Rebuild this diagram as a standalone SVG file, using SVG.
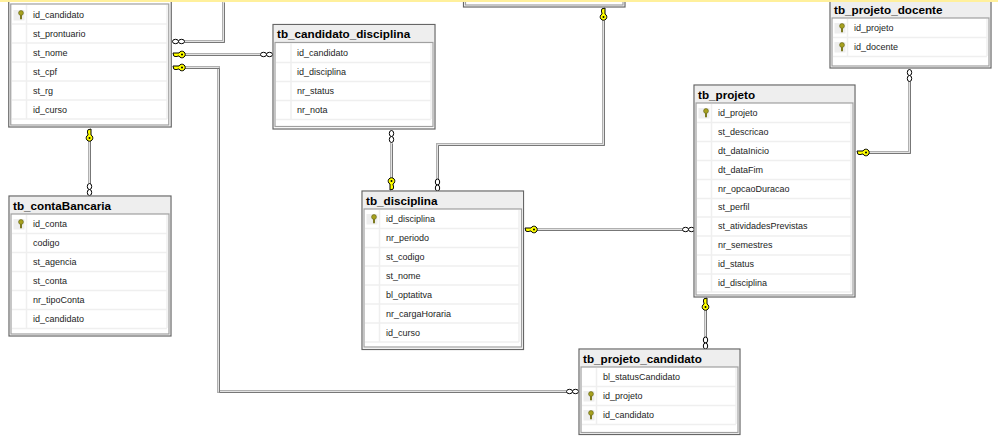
<svg xmlns="http://www.w3.org/2000/svg" width="998" height="448" viewBox="0 0 998 448">
<style>
.o{fill:#fff;stroke:#666;stroke-width:1.2}
.h{fill:#eee}
.i{fill:#fff;stroke:#a0a0a0;stroke-width:1.2}
.s{fill:none;stroke:#efefef;stroke-width:1.5}
.c{fill:#eee}
text{font-family:"Liberation Sans",Arial,sans-serif;fill:#1c1c1c}
.r{font-size:9px;transform:translateY(-.8px)}
.t{font-size:11.700px;font-weight:700;fill:#000;transform:translateY(-.5px)}
.a{fill:none;stroke:#b0b0b0;stroke-width:3}
.b{fill:none;stroke:#e2e2e2;stroke-width:1}
.d{fill:none;stroke:#777;stroke-width:1}
.k{fill:#ff0;stroke:#000;stroke-width:1}
.inf{fill:#fff;stroke:#000;stroke-width:1}
</style>
<defs>
<g id="pk"><rect x="-6.500" y="-5" width="11" height="10.500" class="c"/><circle cx="1" cy="-2" r="2.400" fill="#a8a21e" stroke="#6a6a20" stroke-width=".7"/><path d="M1 0V4.200" stroke="#7c7a20" stroke-width="2"/></g>
<g id="key"><path class="k" d="M0 -1.500H6V-1.500A3.300 3.300 0 1 1 6 1.500H4.500L3.800 2.500L3 1.500L2.200 2.500L1.400 1.500H.8Z"/><circle cx="9" cy="0" r="1" fill="#000"/></g>
<g id="inf"><ellipse class="inf" cx="3" cy="0" rx="3" ry="2.200"/><ellipse class="inf" cx="9" cy="0" rx="3" ry="2.200"/></g>
<path id="c1" d="M184 41.500H223.500V2"/>
<path id="c2" d="M184 54.500H260"/>
<path id="c3" d="M184 67.500H218.500V391.500H566"/>
<path id="c4" d="M89.500 140V183"/>
<path id="c5" d="M391.500 143V179"/>
<path id="c6" d="M437.500 179V144.500H603.500V20"/>
<path id="c7" d="M536 229.500H682"/>
<path id="c8" d="M705.500 309V337"/>
<path id="c9" d="M909.500 81V152.500H868"/>
</defs>
<rect width="998" height="448" fill="#fff"/>
<g id="connectors">
<g class="a"><use href="#c1"/><use href="#c2"/><use href="#c3"/><use href="#c4"/><use href="#c5"/><use href="#c6"/><use href="#c7"/><use href="#c8"/><use href="#c9"/></g>
<g class="b"><use href="#c1"/><use href="#c2"/><use href="#c3"/><use href="#c4"/><use href="#c5"/><use href="#c6"/><use href="#c7"/><use href="#c8"/><use href="#c9"/></g>
<g class="d" transform="translate(1 1)"><use href="#c1"/><use href="#c2"/><use href="#c3"/><use href="#c4"/><use href="#c5"/><use href="#c6"/><use href="#c7"/><use href="#c8"/><use href="#c9"/></g>
<use href="#inf" x="172.500" y="41.500"/>
<use href="#key" x="173" y="54.500"/>
<use href="#inf" x="260.500" y="54.500"/>
<use href="#key" x="173" y="67.500"/>
<use href="#inf" x="566.500" y="391.500"/>
<use href="#key" transform="translate(89.500 129) rotate(90)"/>
<use href="#inf" transform="translate(89.500 183.500) rotate(90)"/>
<use href="#inf" transform="translate(391.500 130.500) rotate(90)"/>
<use href="#key" transform="translate(391.500 190) rotate(-90)"/>
<use href="#inf" transform="translate(437.500 179) rotate(90)"/>
<use href="#key" transform="translate(603.500 8) rotate(90)"/>
<use href="#key" x="525" y="229.500"/>
<use href="#inf" x="682.500" y="229.500"/>
<use href="#key" transform="translate(705.500 298) rotate(90)"/>
<use href="#inf" transform="translate(705.500 337) rotate(90)"/>
<use href="#inf" transform="translate(909.500 69.500) rotate(90)"/>
<use href="#key" x="857" y="152.500"/>
</g>
<g id="tb_candidato">
<rect class="o" x="8.750" y="-6" width="162.500" height="133"/><rect class="i" x="10.750" y="4" width="158" height="121"/>
<path class="s" d="M12 24H167M12 43H167M12 62H167M12 81H167M12 100H167M12 119H167M26.500 5V119M167 5V119"/>
<use href="#pk" x="20" y="15"/>
<text class="r" x="33" y="18.500">id_candidato</text><text class="r" x="33" y="37.500">st_prontuario</text><text class="r" x="33" y="56.500">st_nome</text><text class="r" x="33" y="75.500">st_cpf</text><text class="r" x="33" y="94.500">st_rg</text><text class="r" x="33" y="113.500">id_curso</text>
</g>
<g id="tb_candidato_disciplina">
<rect class="o" x="273" y="24.500" width="162" height="104.500"/><rect class="h" x="274" y="25" width="160" height="17"/><rect class="i" x="275" y="42.500" width="158" height="84"/>
<path class="s" d="M276 62.500H431M276 81.500H431M276 100.500H431M276 119.500H431M291 43V119M431 43V119"/>
<text class="t" x="277" y="38">tb_candidato_disciplina</text>
<text class="r" x="297" y="56.500">id_candidato</text><text class="r" x="297" y="75.500">id_disciplina</text><text class="r" x="297" y="94.500">nr_status</text><text class="r" x="297" y="113.500">nr_nota</text>
</g>
<g id="tb_top"><rect class="o" x="463.500" y="-10" width="161.500" height="17"/><rect class="i" x="465.500" y="-10" width="157.500" height="15"/></g>
<g id="tb_projeto_docente">
<rect class="o" x="830" y="-6" width="161" height="74"/><rect class="h" x="831" y="-5" width="159" height="23"/><rect class="i" x="832" y="18" width="157" height="48"/>
<path class="s" d="M833 37.500H987M833 56.500H987M847.500 19V56M987 19V56"/>
<use href="#pk" x="841" y="28"/><use href="#pk" x="841" y="47"/>
<text class="t" x="834" y="14">tb_projeto_docente</text>
<text class="r" x="854" y="31.500">id_projeto</text><text class="r" x="854" y="50.500">id_docente</text>
</g>
<g id="tb_projeto">
<rect class="o" x="694" y="85" width="161" height="212"/><rect class="h" x="695" y="86" width="159" height="17"/><rect class="i" x="696" y="103" width="157" height="192"/>
<path class="s" d="M697 122.500H851M697 141.500H851M697 160.500H851M697 179.500H851M697 198.500H851M697 217H851M697 236H851M697 255H851M697 274H851M697 292H851M711.500 104V292M851 104V292"/>
<use href="#pk" x="705" y="113"/>
<text class="t" x="698" y="99">tb_projeto</text>
<text class="r" x="718" y="116.500">id_projeto</text><text class="r" x="718" y="135.500">st_descricao</text><text class="r" x="718" y="154.500">dt_dataInicio</text><text class="r" x="718" y="173.500">dt_dataFim</text><text class="r" x="718" y="192.500">nr_opcaoDuracao</text><text class="r" x="718" y="210.500">st_perfil</text><text class="r" x="718" y="229.500">st_atividadesPrevistas</text><text class="r" x="718" y="248.500">nr_semestres</text><text class="r" x="718" y="267.500">id_status</text><text class="r" x="718" y="286.500">id_disciplina</text>
</g>
<g id="tb_disciplina">
<rect class="o" x="362" y="191" width="161.500" height="158.500"/><rect class="h" x="363" y="192" width="159.500" height="17"/><rect class="i" x="364" y="209" width="157.500" height="138"/>
<path class="s" d="M365 228.500H519M365 247.500H519M365 266H519M365 285H519M365 304H519M365 323H519M365 342H519M379.500 210V342M519 210V342"/>
<use href="#pk" x="373" y="219"/>
<text class="t" x="366" y="205">tb_disciplina</text>
<text class="r" x="386" y="222.500">id_disciplina</text><text class="r" x="386" y="241.500">nr_periodo</text><text class="r" x="386" y="260.500">st_codigo</text><text class="r" x="386" y="279.500">st_nome</text><text class="r" x="386" y="298.500">bl_optatitva</text><text class="r" x="386" y="317.500">nr_cargaHoraria</text><text class="r" x="386" y="336.500">id_curso</text>
</g>
<g id="tb_projeto_candidato">
<rect class="o" x="579" y="349" width="161" height="85.500"/><rect class="h" x="580" y="350" width="159" height="17"/><rect class="i" x="581" y="367" width="157" height="65.500"/>
<path class="s" d="M582 386.500H736M582 405.500H736M582 424.500H736M596.500 368V424M736 368V424"/>
<use href="#pk" x="590" y="396"/><use href="#pk" x="590" y="415"/>
<text class="t" x="583" y="363">tb_projeto_candidato</text>
<text class="r" x="603" y="380.500">bl_statusCandidato</text><text class="r" x="603" y="399.500">id_projeto</text><text class="r" x="603" y="418.500">id_candidato</text>
</g>
<g id="tb_contaBancaria">
<rect class="o" x="9" y="196" width="162" height="140"/><rect class="h" x="10" y="197" width="160" height="17"/><rect class="i" x="11" y="214" width="158" height="120"/>
<path class="s" d="M12 233.500H167M12 252.500H167M12 271.500H167M12 290.500H167M12 309.500H167M12 328.500H167M26.500 215V328M167 215V328"/>
<use href="#pk" x="20" y="224"/>
<text class="t" x="13" y="210">tb_contaBancaria</text>
<text class="r" x="33" y="227.500">id_conta</text><text class="r" x="33" y="246.500">codigo</text><text class="r" x="33" y="265.500">st_agencia</text><text class="r" x="33" y="284.500">st_conta</text><text class="r" x="33" y="303.500">nr_tipoConta</text><text class="r" x="33" y="322.500">id_candidato</text>
</g>
<rect id="strip" width="998" height="2" fill="#fff09c"/>
</svg>
